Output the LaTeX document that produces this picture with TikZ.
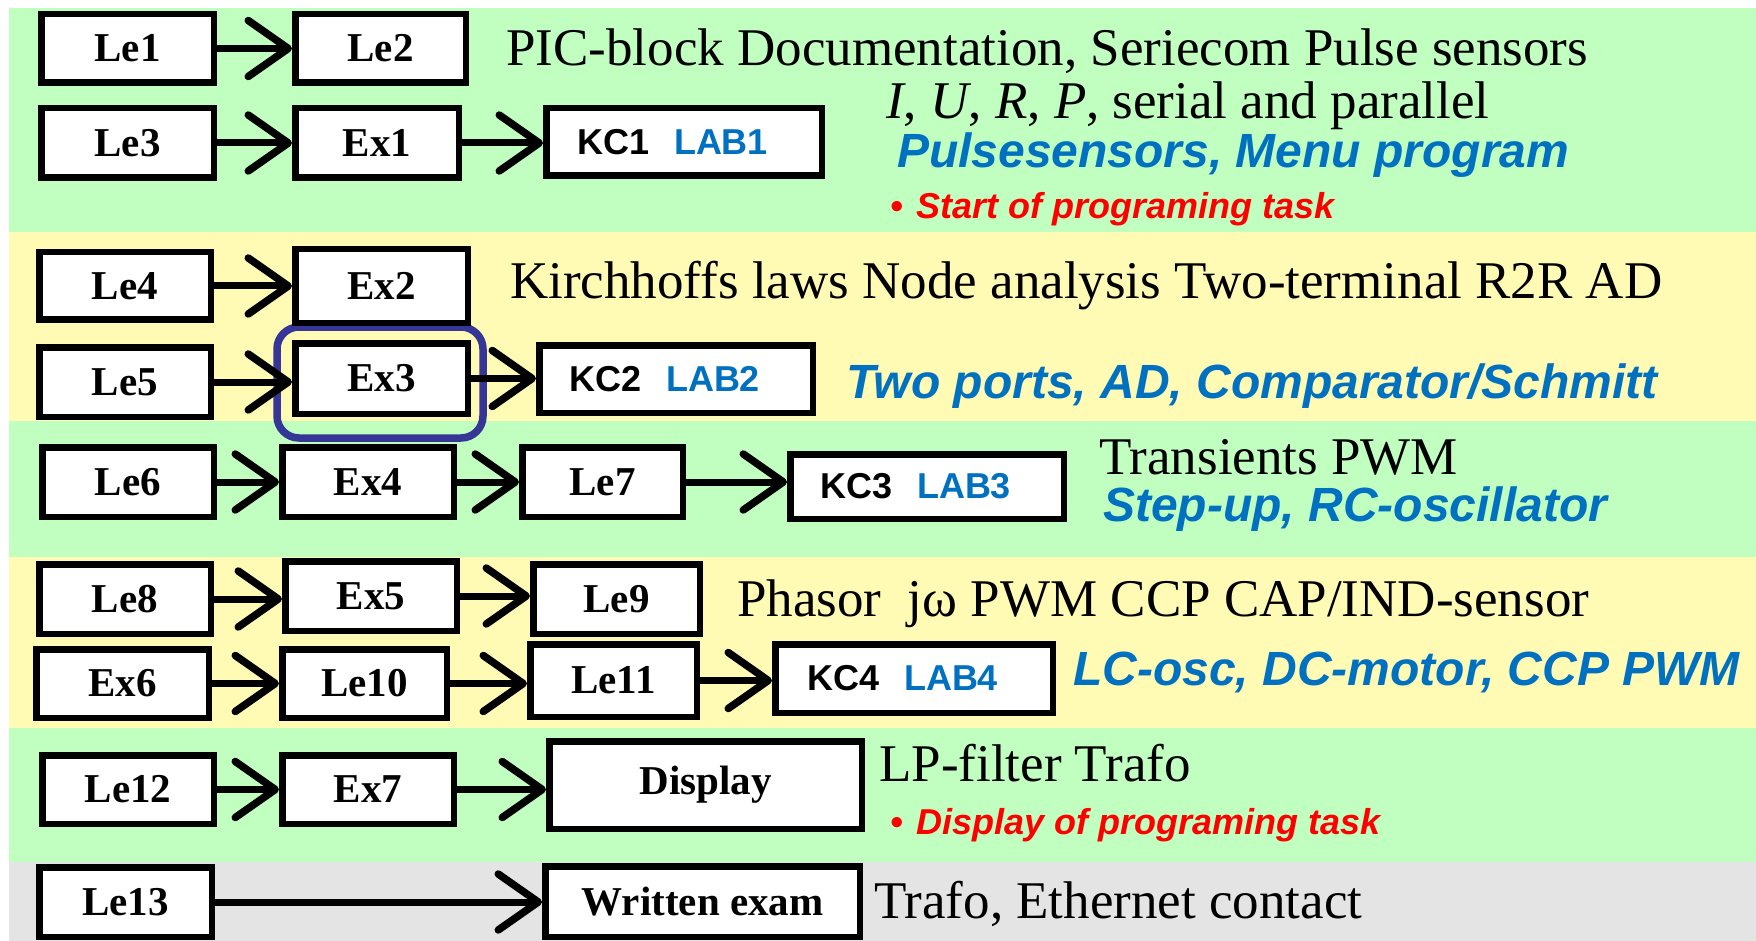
\documentclass[tikz,border=0pt]{standalone}
\usepackage{fontspec}
\setmainfont{Liberation Serif}
\newfontfamily\sansf{Liberation Sans}
\usetikzlibrary{arrows.meta}
\definecolor{bgG}{HTML}{C0FFC0}
\definecolor{bgY}{HTML}{FFFAB4}
\definecolor{bgR}{HTML}{E4E4E4}
\definecolor{tblue}{HTML}{0070C0}
\definecolor{ringblue}{HTML}{363696}
\tikzset{
 box/.style={draw=black, line width=6.5pt, fill=white, inner sep=0pt, font=\fontsize{41}{46}\selectfont\bfseries},
 kc/.style={box, font=\sansf\bfseries\fontsize{36}{42}\selectfont},
 lnk/.style={line width=7pt, -{Straight Barb[length=40pt,width=56pt,line width=7.5pt,round]}},
 maintxt/.style={anchor=base west, inner sep=0pt, font=\fontsize{53}{60}\selectfont},
 bluetxt/.style={anchor=base west, inner sep=0pt, text=tblue, font=\sansf\bfseries\itshape\fontsize{48}{54}\selectfont},
 redtxt/.style={anchor=base west, inner sep=0pt, text=red, font=\sansf\bfseries\itshape\fontsize{36}{42}\selectfont},
 ring/.style={draw=ringblue, line width=7.5pt, rounded corners=22pt},
}
\newcommand\bx[7][box]{%
 \node[#1, minimum width={(#5-#3-6.5)*1pt}, minimum height={(#6-#4-6.5)*1pt}] (#2) at ({(#3+#5)/2},{(#4+#6)/2}) {#7};}
\newcommand\kcl[2]{#1\hspace{24pt}\textcolor{tblue}{#2}\hspace*{22pt}}
\begin{document}
\begin{tikzpicture}[x=1pt,y=-1pt]
\useasboundingbox (0,0) rectangle (1756,941);
% bands
\fill[bgG] (9,8) rectangle (1756,232);
\fill[bgY] (9,232) rectangle (1756,421);
\fill[bgG] (9,421) rectangle (1756,557);
\fill[bgY] (9,557) rectangle (1756,728);
\fill[bgG] (9,728) rectangle (1756,862);
\fill[bgR] (9,862) rectangle (1756,941);
% highlight ring
\draw[ring] (277,327) rectangle (483,438);
% boxes
\bx{le1}{38}{11}{217}{86}{Le1}
\bx{le2}{292}{11}{469}{86}{Le2}
\bx{le3}{38}{105}{217}{181}{Le3}
\bx{ex1}{292}{105}{462}{181}{Ex1}
\bx[kc]{kc1}{543}{105}{825}{179}{\kcl{KC1}{LAB1}}
\bx{le4}{36}{249}{214}{323}{Le4}
\bx{ex2}{292}{246}{471}{326}{Ex2}
\bx{le5}{36}{344}{214}{420}{Le5}
\bx{ex3}{292}{340}{471}{417}{Ex3}
\bx[kc]{kc2}{536}{342}{816}{416}{\kcl{KC2}{LAB2}}
\bx{le6}{39}{444}{217}{520}{Le6}
\bx{ex4}{279}{444}{457}{520}{Ex4}
\bx{le7}{519}{444}{686}{520}{Le7}
\bx[kc]{kc3}{787}{451}{1067}{522}{\kcl{KC3}{LAB3}}
\bx{le8}{36}{561}{214}{637}{Le8}
\bx{ex5}{282}{558}{460}{634}{Ex5}
\bx{le9}{530}{561}{703}{637}{Le9}
\bx{ex6}{33}{646}{212}{721}{Ex6}
\bx{le10}{279}{646}{450}{721}{Le10}
\bx{le11}{527}{641}{700}{720}{Le11}
\bx[kc]{kc4}{772}{641}{1056}{716}{\kcl{KC4}{LAB4}}
\bx{le12}{39}{752}{217}{827}{Le12}
\bx{ex7}{279}{752}{457}{827}{Ex7}
\bx{disp}{546}{738}{865}{832}{Display}
\bx{le13}{36}{864}{215}{940}{Le13}
\bx{wexam}{542}{863}{863}{940}{Written exam}
% connectors
\draw[lnk] (le1.east) -- (le1.east -| le2.west);
\draw[lnk] (le3.east) -- (le3.east -| ex1.west);
\draw[lnk] (ex1.east) -- (ex1.east -| kc1.west);
\draw[lnk] (le4.east) -- (le4.east -| ex2.west);
\draw[lnk] (le5.east) -- (le5.east -| ex3.west);
\draw[lnk] (ex3.east) -- (ex3.east -| kc2.west);
\draw[lnk] (le6.east) -- (le6.east -| ex4.west);
\draw[lnk] (ex4.east) -- (ex4.east -| le7.west);
\draw[lnk] (le7.east) -- (le7.east -| kc3.west);
\draw[lnk] (le8.east) -- (le8.east -| ex5.west);
\draw[lnk] (ex5.east) -- (ex5.east -| le9.west);
\draw[lnk] (ex6.east) -- (ex6.east -| le10.west);
\draw[lnk] (le10.east) -- (le10.east -| le11.west);
\draw[lnk] (le11.east) -- (le11.east -| kc4.west);
\draw[lnk] (le12.east) -- (le12.east -| ex7.west);
\draw[lnk] (ex7.east) -- (ex7.east -| disp.west);
\draw[lnk] (le13.east) -- (le13.east -| wexam.west);
% texts
\node[maintxt] (t1) at (506,66) {PIC-block Documentation, Seriecom Pulse sensors};
\node[maintxt] (t2) at (886,119) {\textit{I}, \textit{U}, \textit{R}, \textit{P}, serial and parallel};
\node[bluetxt] (t3) at (897,168) {Pulsesensors, Menu program};
\node[redtxt] (t4) at (890,219) {\textbullet\hspace{14pt}Start of programing task};
\node[maintxt] (t5) at (510,299) {Kirchhoffs laws Node analysis Two-terminal R2R AD};
\node[bluetxt] (t6) at (846,398) {Two ports, AD, Comparator/Schmitt};
\node[maintxt] (t7) at (1099,474) {Transients PWM};
\node[bluetxt] (t8) at (1103,521) {Step-up, RC-oscillator};
\node[maintxt] (t9) at (737,616) {Phasor \ jω PWM CCP CAP/IND-sensor};
\node[bluetxt] (t10) at (1073,685) {LC-osc, DC-motor, CCP PWM};
\node[maintxt] (t11) at (879,781) {LP-filter Trafo};
\node[redtxt] (t12) at (890,834) {\textbullet\hspace{14pt}Display of programing task};
\node[maintxt] (t13) at (874,918) {Trafo, Ethernet contact};
\end{tikzpicture}
\end{document}
